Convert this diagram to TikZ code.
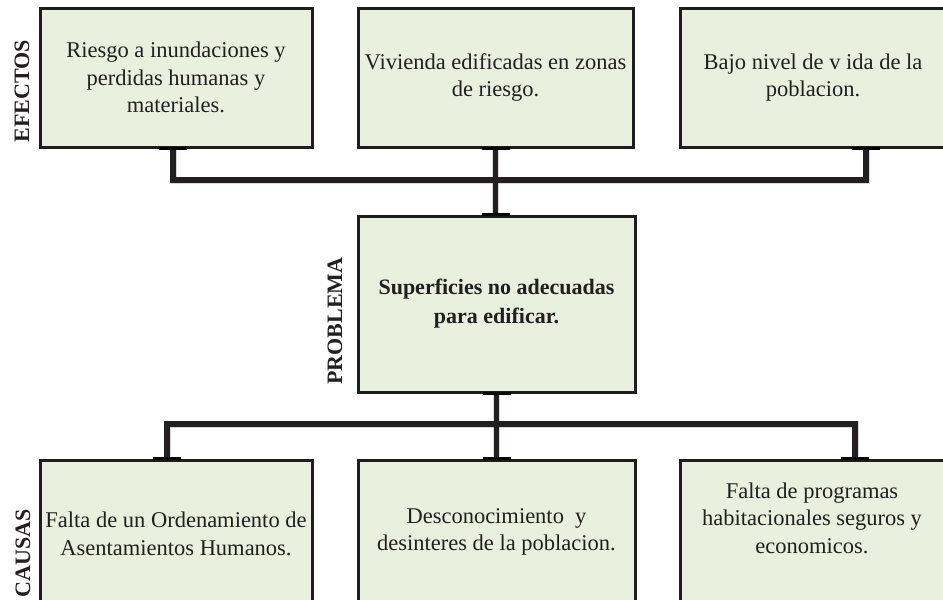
\documentclass[tikz,border=0pt]{standalone}
\usepackage{fontspec}
\setmainfont{Liberation Serif}
\definecolor{boxfill}{RGB}{233,240,222}
\definecolor{ink}{RGB}{35,31,32}
\definecolor{boxline}{RGB}{30,28,28}
\begin{document}
\begin{tikzpicture}[x=1pt,y=-1pt,
  box/.style={draw=boxline, line width=3pt, fill=boxfill, inner sep=0pt, align=center,
              font=\fontsize{22.5}{27.5}\selectfont, text=ink},
  txt/.style={align=center, font=\fontsize{22.5}{27.5}\selectfont, text=ink, inner sep=0pt},
  conn/.style={draw=ink, line width=5.5pt},
  shade/.style={draw=black, opacity=0.15, line width=7pt},
  joinmark/.style={draw=black, line width=3.8pt},
  side/.style={rotate=90, font=\bfseries\fontsize{22}{26}\selectfont, text=ink, inner sep=0pt}]
\useasboundingbox (0,0) rectangle (943,600);

% effects
\node[box, minimum width=272pt, minimum height=139pt] (e1) at (176,77.5)
  {Riesgo a inundaciones y\\perdidas humanas y\\materiales.};
\node[box, minimum width=275pt, minimum height=139pt] (e2) at (495.5,77.5)
  {Vivienda edificadas en zonas\\de riesgo.};
\node[box, minimum width=266pt, minimum height=139pt] (e3) at (813,77.5)
  {Bajo nivel de v ida de la\\poblacion.};

% problem
\node[box, minimum width=277pt, minimum height=176pt,
      font=\bfseries\fontsize{22}{29}\selectfont] (p) at (496.5,304)
  {Superficies no adecuadas\\para edificar.};

% causes
\node[box, minimum width=272pt, minimum height=146pt] (c1) at (176,533) {};
\node[box, minimum width=277pt, minimum height=146pt] (c2) at (496.5,533) {};
\node[box, minimum width=266pt, minimum height=146pt] (c3) at (813,533) {};
\node[txt] (t1) at (176,534) {Falta de un Ordenamiento de\\Asentamientos Humanos.};
\node[txt] (t2) at (496.5,532) {Desconocimiento\ \ y\\desinteres de la poblacion.};
\node[txt] (t3) at (812,518) {Falta de programas\\habitacionales seguros y\\economicos.};

% side labels
\node[side] (lef) at (22,91) {EFECTOS};
\node[side] (lpr) at (335,321) {PROBLEMA};
\node[side] (lca) at (23,553) {CAUSAS};

% junction coordinates
\coordinate (tl) at (173,180);
\coordinate (tr) at (866,180);
\coordinate (bl) at (167,424);
\coordinate (br) at (855,424);

% shadows
\begin{scope}[shift={(2,3)}]
\draw[shade] (e1.south -| tl) -- (tl) -- (tr) -- (e3.south -| tr);
\draw[shade] (e2.south) -- (e2.south |- p.north);
\draw[shade] (c1.north -| bl) -- (bl) -- (br) -- (c3.north -| br);
\draw[shade] (p.south) -- (p.south |- c2.north);
\end{scope}

% connectors
\draw[conn] (e1.south -| tl) -- (tl) -- (tr) -- (e3.south -| tr);
\draw[conn] (e2.south) -- (e2.south |- p.north);
\draw[conn] (c1.north -| bl) -- (bl) -- (br) -- (c3.north -| br);
\draw[conn] (p.south) -- (p.south |- c2.north);

% dark marks where connectors meet boxes
\draw[joinmark] ([xshift=-14pt]e1.south -| tl) -- ([xshift=14pt]e1.south -| tl);
\draw[joinmark] ([xshift=-14pt]e3.south -| tr) -- ([xshift=14pt]e3.south -| tr);
\draw[joinmark] ([xshift=-14pt]e2.south) -- ([xshift=14pt]e2.south);
\draw[joinmark] ([xshift=-14pt]e2.south |- p.north) -- ([xshift=14pt]e2.south |- p.north);
\draw[joinmark] ([xshift=-14pt]p.south) -- ([xshift=14pt]p.south);
\draw[joinmark] ([xshift=-14pt]c1.north -| bl) -- ([xshift=14pt]c1.north -| bl);
\draw[joinmark] ([xshift=-14pt]p.south |- c2.north) -- ([xshift=14pt]p.south |- c2.north);
\draw[joinmark] ([xshift=-14pt]c3.north -| br) -- ([xshift=14pt]c3.north -| br);
\end{tikzpicture}
\end{document}
